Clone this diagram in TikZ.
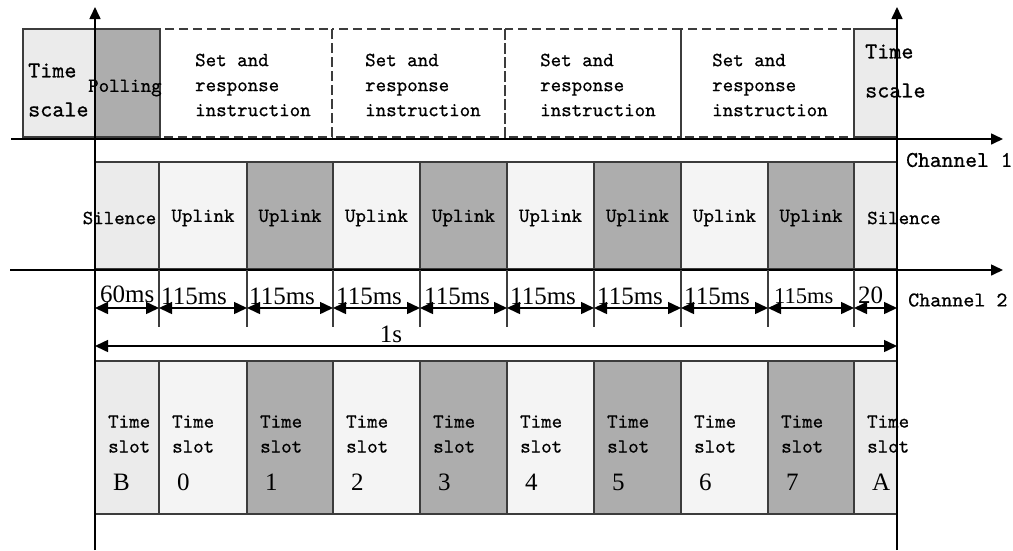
\documentclass[tikz,border=0pt]{standalone}
\usepackage{fontspec}
\newfontfamily\tnr{Liberation Serif}
\newfontfamily\mono{lmmono10-regular.otf}[FakeBold=0.7]
\usetikzlibrary{arrows.meta}
\definecolor{lightslot}{HTML}{F4F4F4}
\definecolor{paleslot}{HTML}{EBEBEB}
\definecolor{darkslot}{HTML}{ADADAD}
\definecolor{edge}{HTML}{3C3C3C}
\begin{document}
\begin{tikzpicture}[x=1pt,y=-1pt,
  axis/.style={line width=1.6pt,-{Triangle[length=12pt,width=11pt]}},
  cell/.style={draw=edge,line width=1.4pt},
  dashcell/.style={draw=edge,line width=1.4pt,dash pattern=on 9pt off 5pt},
  txt/.style={font=\fontsize{20}{25}\selectfont\mono,inner sep=0pt},
  big/.style={font=\fontsize{23}{39}\selectfont\mono,inner sep=0pt,align=left},
  num/.style={font=\fontsize{25}{30}\selectfont\tnr,inner sep=0pt},
  dim/.style={line width=1.5pt,{Triangle[length=13pt,width=12pt]}-{Triangle[length=13pt,width=12pt]}},
  tick/.style={line width=1.2pt,draw=edge}]
\useasboundingbox (0,0) rectangle (1013,550);

% ---- Channel 1 frame: time scale, polling, set/response blocks
\path[cell,fill=paleslot] (23,29) rectangle (95,137);
\path[cell,fill=darkslot] (95,29) rectangle (160,137);
\foreach \a/\b in {160/332,332/505,505/681,681/854}
  \path[dashcell] (\a,29) rectangle (\b,137);
\path[cell,fill=paleslot] (854,29) rectangle (897,137);

% ---- Channel 2 slots and time slots
\foreach \a/\b/\c in {95/159/paleslot,159/247/lightslot,247/333/darkslot,
    333/420/lightslot,420/507/darkslot,507/594/lightslot,594/681/darkslot,
    681/768/lightslot,768/854/darkslot,854/897/paleslot}{
  \path[cell,fill=\c] (\a,162) rectangle (\b,269);
  \path[cell,fill=\c] (\a,361) rectangle (\b,514);
}

% ---- axes
\coordinate (yl0) at (95,550);  \coordinate (yl1) at (95,7);
\coordinate (yr0) at (897,550); \coordinate (yr1) at (897,7);
\coordinate (c10) at (11,139);  \coordinate (c11) at (1003,139);
\coordinate (c20) at (10,270);  \coordinate (c21) at (1003,270);
\draw[axis] (yl0) -- (yl1);
\draw[axis] (yr0) -- (yr1);
\draw[axis] (c10) -- (c11);
\draw[axis] (c20) -- (c21);

% ---- top row labels
\node[big,anchor=west] (tsl) at (28,90) {Time\\scale};
\node[big,anchor=west] (tsr) at (865,71) {Time\\scale};
\node[txt,anchor=west] (poll) at (88,88) {Polling};
\foreach \x [count=\i] in {195,365,540,712}
  \node[txt,anchor=west,align=left] (set\i) at (\x,85) {Set and\\response\\instruction};

\node[txt,anchor=west,font=\fontsize{22.5}{27}\selectfont\mono] (ch1) at (906,160) {Channel 1};
\node[txt,anchor=west,font=\fontsize{21}{25}\selectfont\mono] (ch2) at (908,300) {Channel 2};

% ---- channel 2 labels
\node[txt] (sil0) at (119.5,218) {Silence};
\foreach \x [count=\i] in {203,290,376.5,463.5,550.5,637.5,724.5,811}
  \node[txt] (up\i) at (\x,218) {Uplink};
\node[txt,anchor=west] (sil1) at (867,218) {Silence};

% ---- duration ticks and arrows
\foreach \x [count=\i from 0] in {95,159,247,333,420,507,594,681,768,854,897}
  \coordinate (d\i) at (\x,308);
\foreach \x in {159,247,333,420,507,594,681,768,854}
  \draw[tick] (\x,270) -- (\x,327);
\foreach \i/\j in {0/1,1/2,2/3,3/4,4/5,5/6,6/7,7/8,8/9,9/10}
  \draw[dim] (d\i) -- (d\j);
\node[num,anchor=west] (l0) at (100,294) {60ms};
\foreach \x [count=\i] in {161,249,336,424,510,597,684}
  \node[num,anchor=west] (l\i) at (\x,296) {115ms};
\node[num,anchor=west,font=\fontsize{22.5}{27}\selectfont\tnr] (l8) at (774,296) {115ms};
\node[num,anchor=west] (l9) at (858,295) {20};

\coordinate (s0) at (95,346); \coordinate (s1) at (897,346);
\draw[dim] (s0) -- (s1);
\node[num] (one) at (391,334) {1s};

% ---- time slot labels
\foreach \x/\n [count=\i] in {95/B,159/0,247/1,333/2,420/3,507/4,594/5,681/6,768/7,854/A}{
  \node[txt,anchor=west,align=left] (ts\i) at (\x+13,434) {Time\\slot};
  \node[num,anchor=west] (tn\i) at (\x+18,482) {\n};
}
\end{tikzpicture}
\end{document}
